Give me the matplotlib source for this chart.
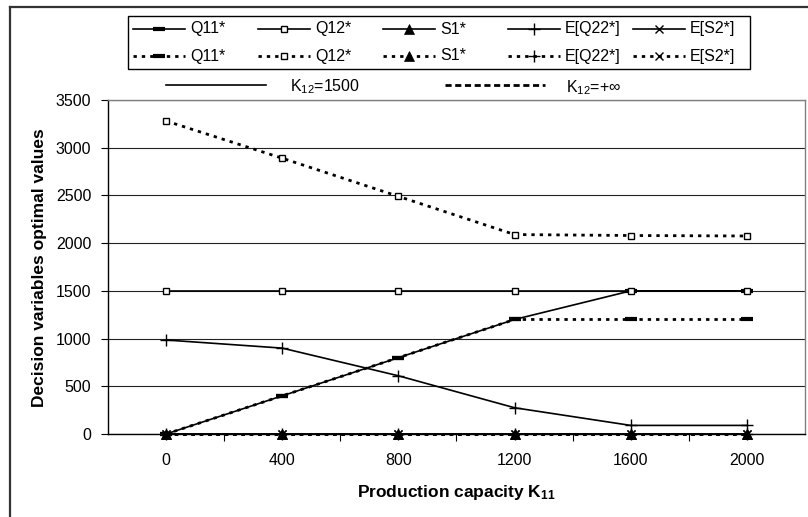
import numpy as np
import matplotlib
matplotlib.use("Agg")
import matplotlib.pyplot as plt
from matplotlib.lines import Line2D
from matplotlib.patches import Rectangle

plt.rcParams['font.family'] = ['Liberation Sans', 'DejaVu Sans']
plt.rcParams['mathtext.fontset'] = 'custom'
plt.rcParams['mathtext.rm'] = 'Liberation Sans'
plt.rcParams['mathtext.it'] = 'Liberation Sans:italic'
plt.rcParams['mathtext.bf'] = 'Liberation Sans:bold'
plt.rcParams['mathtext.default'] = 'regular'

# ---- data ----
capacity = [0, 400, 800, 1200, 1600, 2000]

# K12 = 1500 (solid)
q11_k1500 = [0, 400, 800, 1200, 1500, 1500]
q12_k1500 = [1500, 1500, 1500, 1500, 1500, 1500]
s1_k1500 = [0, 0, 0, 0, 0, 0]
eq22_k1500 = [985, 900, 610, 275, 90, 90]
es2_k1500 = [0, 0, 0, 0, 0, 0]

# K12 = +inf (dotted)
q11_kinf = [0, 400, 800, 1200, 1200, 1200]
q12_kinf = [3280, 2890, 2490, 2090, 2080, 2075]
s1_kinf = [0, 0, 0, 0, 0, 0]
eq22_kinf = [0, 0, 0, 0, 0, 0]
es2_kinf = [0, 0, 0, 0, 0, 0]

series_names = ['Q11*', 'Q12*', 'S1*', 'E[Q22*]', 'E[S2*]']
yticks = [0, 500, 1000, 1500, 2000, 2500, 3000, 3500]

W, H = 808, 517
fig = plt.figure(figsize=(W / 100, H / 100), dpi=100)

def fx(x):
    return x / W

def fy(y):
    return 1 - y / H

FS = 11.5
ax = fig.add_axes([fx(108), fy(434), fx(805) - fx(108), fy(100) - fy(434)])

x = np.arange(len(capacity))
styles = {
    'Q11*': dict(marker='_', ms=8, mew=3, mfc='black', mec='black'),
    'Q12*': dict(marker='s', ms=5, mew=1.0, mfc='white', mec='black'),
    'S1*': dict(marker='^', ms=7, mew=0.5, mfc='black', mec='black'),
    'E[Q22*]': dict(marker='+', ms=9, mew=1.0, mfc='black', mec='black'),
    'E[S2*]': dict(marker='x', ms=6, mew=1.0, mfc='black', mec='black'),
}
solid = [q11_k1500, q12_k1500, s1_k1500, eq22_k1500, es2_k1500]
dotted = [q11_kinf, q12_kinf, s1_kinf, eq22_kinf, es2_kinf]
dot_ls = (0, (1.2, 1.8))

for name, vals in zip(series_names, solid):
    ax.plot(x, vals, color='black', lw=1.2, ls='-', zorder=3, clip_on=False,
            **styles[name])
for name, vals in zip(series_names, dotted):
    ax.plot(x, vals, color='black', lw=2.0, ls=dot_ls, zorder=4, clip_on=False,
            **styles[name])

ax.set_xlim(-0.5, len(capacity) - 0.5)
ax.set_ylim(0, 3500)
ax.set_yticks(yticks)
ax.set_yticklabels([str(v) for v in yticks], fontsize=FS)
ax.set_xticks(x)
ax.set_xticklabels([str(c) for c in capacity], fontsize=FS)
ax.set_xticks(np.arange(0.5, len(capacity) - 0.5, 1.0), minor=True)
ax.tick_params(axis='x', which='major', length=0, pad=14)
ax.tick_params(axis='x', which='minor', length=5, width=0.8, direction='out')
ax.tick_params(axis='y', which='major', length=5, width=0.8, direction='out', pad=7)
ax.yaxis.grid(True, color='#222222', lw=0.8)
ax.set_axisbelow(True)
for s in ['left', 'bottom']:
    ax.spines[s].set_color('black')
    ax.spines[s].set_linewidth(1.0)
for s in ['top', 'right']:
    ax.spines[s].set_color('#808080')
    ax.spines[s].set_linewidth(1.0)

fig.text(fx(40), fy(268), 'Decision variables optimal values', fontsize=12.5,
         fontweight='bold', rotation=90, ha='center', va='center')
fig.text(fx(456), fy(492), r'Production capacity K$_{\mathbf{11}}$', fontsize=12.5,
         fontweight='bold', ha='center', va='center')

# outer frame
fig.add_artist(Line2D([fx(10), fx(10)], [fy(7), -0.05], color='#333333', lw=1.6))
fig.add_artist(Line2D([fx(10), 1.05], [fy(7), fy(7)], color='#333333', lw=1.6))

# legend box
fig.add_artist(Rectangle((fx(128), fy(69)), fx(750) - fx(128), fy(16) - fy(69),
                         fill=False, ec='black', lw=1.0))
for i, name in enumerate(series_names):
    x0 = 133 + 125 * i
    for row_y, ls, lw in [(29, '-', 1.2), (56, dot_ls, 2.0)]:
        fig.add_artist(Line2D([fx(x0), fx(x0 + 52)], [fy(row_y), fy(row_y)],
                              color='black', lw=lw, ls=ls))
        fig.add_artist(Line2D([fx(x0 + 26)], [fy(row_y)], color='black', lw=0,
                              **styles[name]))
        fig.text(fx(x0 + 57), fy(row_y), name, fontsize=FS, ha='left', va='center')

# K12 key
fig.add_artist(Line2D([fx(166), fx(266)], [fy(85), fy(85)], color='black', lw=1.2))
fig.text(fx(290), fy(87), r'K$_{12}$=1500', fontsize=FS, ha='left', va='center')
fig.add_artist(Line2D([fx(445), fx(545)], [fy(85), fy(85)], color='black', lw=2.0,
                      ls=(0, (2.2, 1.3))))
fig.text(fx(566), fy(88), r'K$_{12}$=+∞', fontsize=FS, ha='left', va='center')

fig.savefig('out.png', dpi=100)
